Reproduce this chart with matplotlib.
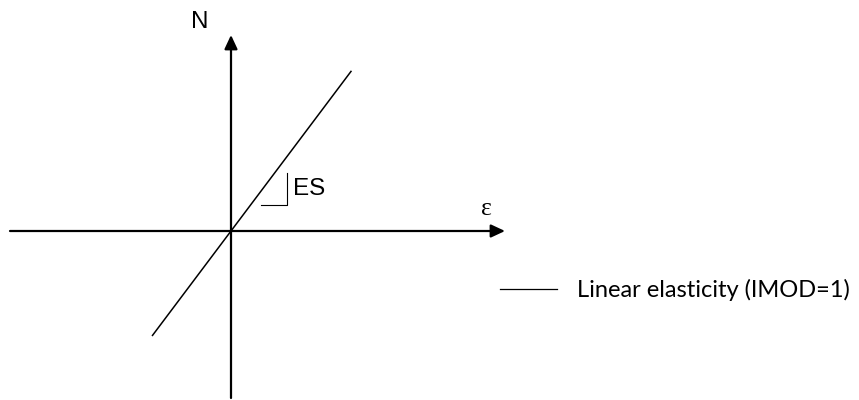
import numpy as np
import matplotlib
matplotlib.use("Agg")
import matplotlib.pyplot as plt

# strain range of the drawn branch and the elastic stiffness
eps = np.array([-0.785, 1.20])
ES = 1.33
N = ES * eps

# extent of the two axis arrows (strain axis, force axis)
eps_axis = [-2.21, 2.74]
n_axis = [-1.67, 1.96]

# little slope triangle next to the line
tri_eps = [0.30, 0.557, 0.557]
tri_n = [0.26, 0.26, 0.58]

curve_label = "Linear elasticity (IMOD=1)"

fig = plt.figure(figsize=(8.59, 4.0), dpi=100)
ax = fig.add_axes([0, 0, 1, 1])
ax.set_xlim(-2.31, 6.28)
ax.set_ylim(-1.69, 2.31)
ax.axis("off")

arrow = dict(arrowstyle="-|>,head_length=0.6,head_width=0.28", mutation_scale=14,
             lw=1.6, color="black", shrinkA=0, shrinkB=0)
ax.annotate("", xy=(eps_axis[1], 0), xytext=(eps_axis[0], 0), arrowprops=arrow)
ax.annotate("", xy=(0, n_axis[1]), xytext=(0, n_axis[0]), arrowprops=arrow)

ax.plot(eps, N, color="black", lw=1.1, label=curve_label)
ax.plot(tri_eps, tri_n, color="black", lw=0.8)

ax.text(-0.31, 2.027, "N", family="Liberation Sans", fontsize=17.5,
        ha="center", va="baseline")
ax.text(2.55, 0.16, "ε", family="Liberation Serif", fontsize=18.5,
        ha="center", va="baseline")
ax.text(0.62, 0.36, "ES", family="Liberation Sans", fontsize=17.5,
        ha="left", va="baseline")

leg = ax.legend(loc="center left", bbox_to_anchor=(0.582, 0.275), frameon=False,
                prop={"family": "Lato", "size": 17}, handlelength=2.4,
                handletextpad=0.85, borderpad=0, borderaxespad=0)
leg.get_lines()[0].set_linewidth(0.9)

fig.savefig("out.png", dpi=100, facecolor="white")
